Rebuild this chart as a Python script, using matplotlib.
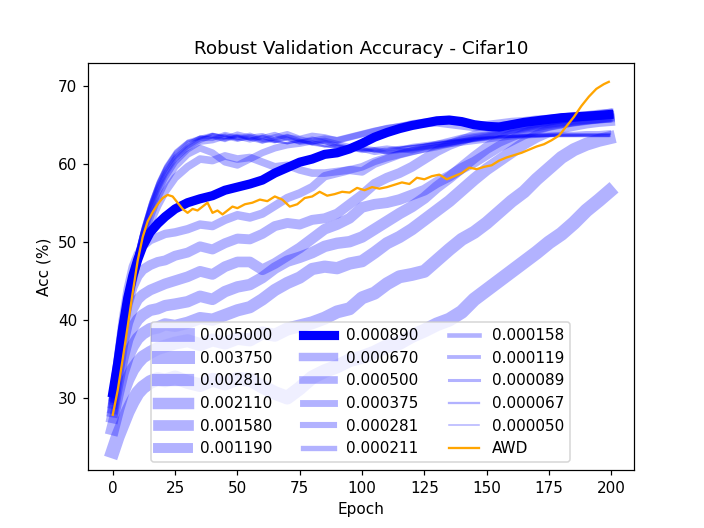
import matplotlib
matplotlib.use("Agg")
import matplotlib.pyplot as plt

epochs = [0, 2, 4, 6, 8, 10, 12, 15, 18, 21, 25, 30, 35, 40, 45, 50, 55, 60, 65, 70,
          75, 80, 85, 90, 95, 100, 105, 110, 115, 120, 125, 130, 135, 140, 145, 150,
          155, 160, 165, 170, 175, 180, 185, 190, 195, 199]

labels = ["0.005000", "0.003750", "0.002810", "0.002110", "0.001580", "0.001190",
          "0.000890", "0.000670", "0.000500", "0.000375", "0.000281", "0.000211",
          "0.000158", "0.000119", "0.000089", "0.000067", "0.000050"]

acc_005000 = [23.1, 25.0, 26.6, 28.2, 29.5, 30.6, 31.3, 32.0, 32.4, 32.2, 32.6, 32.0, 31.6, 32.3, 31.8, 32.4, 32.3, 31.4, 30.6, 30.0,
              31.2, 32.6, 33.4, 34.0, 34.8, 35.2, 35.8, 36.6, 37.0, 37.9, 38.6, 39.4, 40.0, 41.0, 42.6, 43.8,
              45.0, 46.2, 47.4, 48.6, 49.9, 51.0, 52.4, 54.0, 55.3, 56.4]
acc_003750 = [26.0, 28.5, 30.6, 32.3, 33.6, 34.5, 35.2, 35.8, 36.3, 36.6, 37.0, 37.3, 36.8, 37.4, 37.0, 37.6, 37.4, 38.3, 38.0, 38.8,
              39.2, 39.6, 40.2, 41.0, 41.4, 42.8, 43.4, 44.6, 45.5, 45.8, 46.2, 47.6, 49.0, 50.3, 51.2, 52.4,
              53.8, 55.2, 56.4, 58.0, 59.4, 60.8, 61.8, 62.5, 63.0, 63.3]
acc_002810 = [27.5, 30.5, 33.2, 35.2, 36.6, 37.6, 38.2, 38.8, 39.0, 39.4, 39.2, 39.6, 40.2, 40.0, 40.6, 41.2, 41.6, 42.6, 43.8, 44.7,
              45.4, 46.5, 46.8, 46.6, 47.2, 47.5, 48.6, 49.8, 50.6, 51.6, 52.8, 54.0, 55.2, 56.6, 58.0, 59.3,
              60.4, 61.5, 62.6, 63.5, 64.2, 64.7, 65.0, 65.3, 65.5, 65.6]
acc_002110 = [28.2, 31.8, 35.0, 37.5, 39.0, 40.0, 40.6, 41.2, 41.4, 41.8, 42.0, 42.3, 43.0, 42.6, 43.6, 44.2, 44.5, 45.4, 46.6, 47.5,
              48.0, 48.6, 49.4, 49.8, 50.0, 50.6, 51.6, 52.6, 53.6, 54.5, 55.6, 57.0, 58.2, 59.5, 60.8, 62.0,
              62.9, 63.6, 64.2, 64.6, 65.0, 65.3, 65.5, 65.7, 65.9, 66.0]
acc_001580 = [28.6, 32.8, 36.8, 39.6, 41.4, 42.6, 43.2, 43.8, 44.2, 44.6, 45.0, 45.5, 46.2, 45.8, 46.8, 47.4, 47.4, 46.4, 47.2, 48.2,
              49.2, 50.4, 51.6, 52.2, 53.0, 54.4, 54.8, 55.0, 55.4, 56.0, 56.6, 57.6, 58.4, 59.4, 60.2, 61.2,
              62.2, 63.0, 63.8, 64.4, 64.9, 65.2, 65.5, 65.7, 65.9, 66.1]
acc_001190 = [29.2, 34.0, 38.6, 42.0, 44.2, 45.6, 46.4, 47.0, 47.4, 47.6, 48.2, 48.6, 49.4, 49.0, 49.8, 50.4, 50.3, 51.0, 52.0, 52.4,
              52.2, 52.8, 53.0, 53.6, 54.8, 56.0, 57.4, 58.2, 58.8, 59.6, 60.6, 61.6, 62.4, 63.0, 63.6, 64.0,
              64.4, 64.8, 65.1, 65.3, 65.6, 65.8, 66.0, 66.1, 66.3, 66.4]
acc_000890 = [30.6, 34.5, 39.0, 42.8, 45.6, 47.7, 49.4, 51.2, 52.3, 53.2, 54.2, 55.0, 55.5, 55.9, 56.6, 57.0, 57.4, 57.9, 58.8, 59.5,
              60.2, 60.6, 61.2, 61.4, 61.9, 62.6, 63.4, 64.0, 64.5, 64.9, 65.2, 65.5, 65.6, 65.4, 65.0, 64.8,
              64.7, 65.0, 65.3, 65.5, 65.7, 65.9, 66.0, 66.1, 66.2, 66.3]
acc_000670 = [29.6, 35.0, 40.0, 44.0, 46.8, 48.4, 49.4, 50.2, 50.6, 51.0, 51.2, 51.6, 52.2, 52.0, 52.8, 53.4, 53.1, 53.6, 54.6, 55.6,
              56.2, 57.0, 58.4, 58.8, 59.2, 59.0, 60.0, 60.6, 61.2, 61.6, 62.0, 62.4, 62.8, 63.2, 63.4, 63.6,
              64.0, 64.4, 64.8, 65.1, 65.4, 65.7, 65.9, 66.1, 66.3, 66.5]
acc_000500 = [30.0, 34.0, 38.0, 41.6, 44.8, 47.6, 49.8, 52.4, 54.6, 56.4, 58.2, 59.6, 60.6, 60.4, 61.0, 60.6, 60.8, 60.2, 59.6, 59.8,
              59.2, 58.8, 58.8, 59.0, 59.2, 59.6, 60.3, 60.8, 61.2, 61.6, 61.9, 62.2, 62.6, 63.0, 63.3, 63.5,
              63.9, 64.3, 64.6, 64.9, 65.1, 65.3, 65.5, 65.6, 65.7, 65.8]
acc_000375 = [29.8, 33.8, 38.0, 41.6, 44.8, 47.6, 50.0, 53.0, 55.6, 57.6, 59.6, 61.2, 62.0, 61.4, 60.2, 59.8, 60.6, 61.4, 62.0, 62.4,
              62.6, 62.9, 63.2, 63.0, 63.4, 63.8, 64.2, 64.5, 64.8, 65.0, 65.1, 65.2, 65.0, 64.8, 64.6, 64.7,
              64.9, 65.1, 65.3, 65.5, 65.6, 65.8, 65.9, 66.0, 66.1, 66.2]
acc_000281 = [30.2, 34.2, 38.4, 42.0, 45.2, 48.0, 50.6, 53.6, 56.2, 58.2, 60.2, 61.8, 62.8, 63.0, 63.5, 63.2, 63.6, 63.0, 63.4, 63.8,
              63.2, 63.6, 63.4, 63.0, 63.4, 63.8, 64.2, 64.6, 64.8, 65.2, 65.4, 65.5, 65.6, 65.3, 65.0, 65.1,
              65.3, 65.5, 65.6, 65.8, 65.9, 66.0, 66.1, 66.2, 66.3, 66.4]
acc_000211 = [30.4, 34.4, 38.6, 42.2, 45.4, 48.3, 50.9, 54.0, 56.6, 58.6, 60.6, 62.0, 63.0, 63.6, 63.2, 63.8, 63.4, 63.6, 63.0, 63.4,
              63.2, 62.8, 63.0, 62.6, 62.2, 62.0, 61.8, 61.6, 61.8, 62.0, 62.2, 62.4, 62.6, 62.9, 63.2, 63.5,
              63.8, 64.0, 64.3, 64.5, 64.8, 65.0, 65.2, 65.4, 65.5, 65.6]
acc_000158 = [29.6, 34.0, 38.2, 42.0, 45.4, 48.4, 51.0, 54.2, 56.8, 58.8, 60.8, 62.2, 63.2, 63.2, 63.8, 63.4, 63.0, 63.4, 63.8, 63.2,
              62.8, 63.2, 62.8, 62.4, 62.0, 61.8, 61.4, 61.6, 61.8, 61.6, 62.0, 62.2, 62.4, 62.6, 62.8, 63.0,
              63.2, 63.4, 63.5, 63.6, 63.7, 63.8, 63.8, 63.9, 63.9, 64.0]
acc_000119 = [30.0, 34.2, 38.5, 42.3, 45.7, 48.7, 51.3, 54.5, 57.1, 59.1, 61.0, 62.5, 63.4, 63.4, 63.0, 63.6, 63.2, 62.8, 63.2, 63.6,
              63.0, 62.6, 62.8, 62.2, 62.0, 61.6, 61.8, 61.4, 61.6, 61.8, 62.0, 62.3, 62.6, 62.8, 63.0, 63.2,
              63.4, 63.5, 63.6, 63.6, 63.7, 63.7, 63.7, 63.7, 63.7, 63.7]
acc_000089 = [30.6, 34.6, 38.8, 42.6, 46.0, 49.0, 51.6, 54.8, 57.4, 59.4, 61.3, 62.7, 63.4, 63.8, 63.4, 63.2, 63.6, 63.0, 62.8, 63.2,
              62.6, 62.8, 62.4, 62.0, 61.8, 62.0, 61.6, 61.8, 62.0, 62.2, 62.4, 62.6, 62.8, 63.0, 63.2, 63.3,
              63.4, 63.5, 63.5, 63.6, 63.6, 63.6, 63.6, 63.6, 63.6, 63.6]
acc_000067 = [30.8, 34.8, 39.0, 42.8, 46.2, 49.2, 51.8, 55.0, 57.6, 59.6, 61.5, 62.9, 63.2, 63.8, 63.6, 63.0, 63.2, 63.6, 63.0, 62.6,
              63.0, 62.6, 62.2, 62.4, 62.0, 61.8, 62.0, 62.2, 62.0, 62.4, 62.6, 62.8, 63.0, 63.1, 63.3, 63.4,
              63.5, 63.5, 63.6, 63.6, 63.7, 63.7, 63.7, 63.7, 63.7, 63.7]
acc_000050 = [31.0, 35.0, 39.2, 43.0, 46.4, 49.4, 52.0, 55.2, 57.8, 59.8, 61.7, 63.0, 63.5, 63.4, 63.2, 63.6, 63.0, 63.2, 62.8, 62.6,
              62.8, 62.4, 62.2, 62.0, 61.8, 61.6, 61.8, 62.0, 62.2, 62.3, 62.5, 62.7, 62.9, 63.0, 63.2, 63.3,
              63.4, 63.4, 63.5, 63.5, 63.5, 63.5, 63.5, 63.5, 63.5, 63.5]

awd_epochs = [0, 2, 4, 6, 8, 10, 12, 14, 16, 18, 20, 22, 24, 26, 28, 30, 32, 34, 36, 38, 40, 42, 44, 46, 48,
              50, 53, 56, 59, 62, 65, 68, 71, 74, 77, 80, 83, 86, 89, 92, 95, 98, 101, 104, 107, 110,
              113, 116, 119, 122, 125, 128, 131, 134, 137, 140, 143, 146, 149, 152, 155, 158, 161, 164,
              167, 170, 173, 176, 179, 182, 185, 188, 191, 194, 197, 199]
awd_acc = [27.8, 31.0, 35.0, 39.2, 43.5, 47.6, 50.6, 52.6, 53.8, 54.8, 55.6, 56.0, 55.8, 55.0, 54.2, 53.7, 54.2, 54.0,
           54.5, 55.0, 53.7, 54.0, 53.5, 54.0, 54.5, 54.3, 54.8, 55.0, 55.4, 55.2, 55.8, 55.4, 54.5, 54.8, 55.6,
           55.8, 56.4, 55.9, 56.1, 56.4, 56.3, 56.9, 56.6, 57.0, 56.8, 57.0, 57.3, 57.6, 57.4, 58.2, 58.0, 58.4,
           58.6, 58.0, 58.4, 58.8, 59.5, 59.3, 59.6, 59.8, 60.4, 60.8, 61.1, 61.4, 61.8, 62.2, 62.5, 63.0, 63.6,
           64.8, 66.0, 67.4, 68.6, 69.6, 70.2, 70.5]

series = [acc_005000, acc_003750, acc_002810, acc_002110, acc_001580, acc_001190,
          acc_000890, acc_000670, acc_000500, acc_000375, acc_000281, acc_000211,
          acc_000158, acc_000119, acc_000089, acc_000067, acc_000050]
highlight = "0.000890"

fig, ax = plt.subplots(figsize=(6.4, 4.8), dpi=110)
n = len(series)
for i, (lab, vals) in enumerate(zip(labels, series)):
    lw = 1 + (n - 1 - i) * 0.5
    alpha = 1.0 if lab == highlight else 0.3
    ax.plot(epochs, vals, color="blue", alpha=alpha, linewidth=lw, label=lab)
ax.plot(awd_epochs, awd_acc, color="orange", linewidth=1.5, label="AWD")

ax.set_title("Robust Validation Accuracy - Cifar10")
ax.set_xlabel("Epoch")
ax.set_ylabel("Acc (%)")
ax.legend(loc="lower center", ncol=3)
fig.savefig("out.png", dpi=110)
